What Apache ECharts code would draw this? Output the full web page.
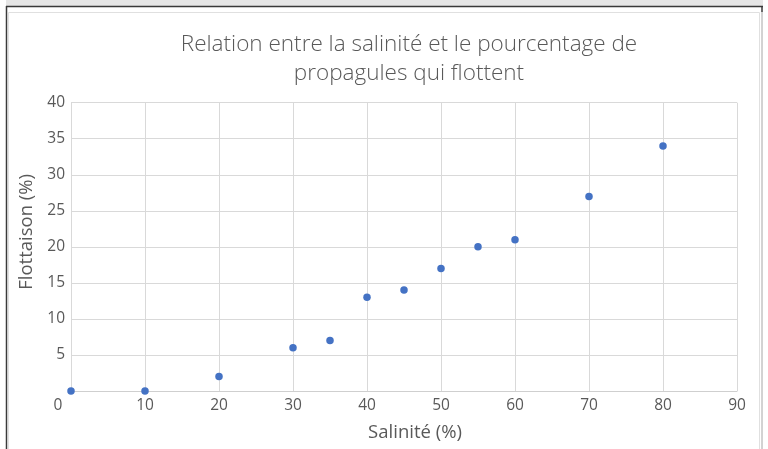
<!DOCTYPE html>
<html>
<head>
<meta charset="utf-8">
<script src="https://cdn.jsdelivr.net/npm/echarts@6/dist/echarts.min.js"></script>
<style>
  html, body { margin: 0; padding: 0; background: #ffffff; }
  #chart { width: 768px; height: 449px; }
</style>
</head>
<body>
<div id="chart"></div>
<script>
// Salinité (%) et flottaison (%) des propagules
const salinite   = [0, 10, 20, 30, 35, 40, 45, 50, 55, 60, 70, 80];
const flottaison = [0, 0, 2, 6, 7, 13, 14, 17, 20, 21, 27, 34];

const xTicks = { min: 0, max: 90, interval: 10 };
const yTicks = { min: 0, max: 40, interval: 5 };

const titleLines = ['Relation entre la salinité et le pourcentage de', 'propagules qui flottent'];
const xName = 'Salinité (%)';
const yName = 'Flottaison (%)';

const points = salinite.map((s, i) => [s, flottaison[i]]);

const FONT = '"Open Sans", "Noto Sans", sans-serif';
const TEXT = '#595959';
const GRID = '#d9d9d9';

const chart = echarts.init(document.getElementById('chart'), null, { renderer: 'canvas' });

chart.setOption({
  animation: false,
  backgroundColor: '#ffffff',
  title: {
    text: titleLines.join('\n'),
    left: 404,
    top: 25,
    textAlign: 'center',
    textStyle: {
      fontFamily: FONT,
      fontWeight: 300,
      fontSize: 22.5,
      lineHeight: 29,
      color: TEXT
    }
  },
  graphic: [
    // window frame around the chart area
    { type: 'rect', shape: { x: 6, y: 0, width: 757, height: 6 }, style: { fill: '#e6e6e6' }, silent: true },
    { type: 'line', shape: { x1: 6, y1: 6.5, x2: 763, y2: 6.5 }, style: { stroke: '#3a3a3a', lineWidth: 1.5 }, silent: true },
    { type: 'line', shape: { x1: 6.5, y1: 6, x2: 6.5, y2: 449 }, style: { stroke: '#3a3a3a', lineWidth: 1.5 }, silent: true },
    { type: 'line', shape: { x1: 762, y1: 6, x2: 762, y2: 12 }, style: { stroke: '#3a3a3a', lineWidth: 1.5 }, silent: true },
    { type: 'line', shape: { x1: 762, y1: 12, x2: 762, y2: 449 }, style: { stroke: '#a6a6a6', lineWidth: 1 }, silent: true },
    { type: 'rect', shape: { x: 8.5, y: 12.5, width: 751, height: 450 }, style: { fill: 'none', stroke: '#e0e0e0', lineWidth: 1 }, silent: true }
  ],
  grid: {
    left: 71,
    right: 31,
    top: 102.7,
    bottom: 58,
    containLabel: false
  },
  xAxis: {
    type: 'value',
    min: xTicks.min,
    max: xTicks.max,
    interval: xTicks.interval,
    name: xName,
    nameLocation: 'middle',
    nameGap: 32,
    nameTextStyle: {
      fontFamily: FONT,
      fontSize: 18.5,
      color: TEXT,
      padding: [0, 0, 0, 22]
    },
    axisLine: { show: true, lineStyle: { color: '#cfcfcf', width: 1 } },
    axisTick: { show: false },
    splitLine: { show: true, lineStyle: { color: GRID, width: 1 } },
    axisLabel: {
      margin: 7,
      fontFamily: FONT,
      fontSize: 15.5,
      color: TEXT,
      formatter: function (v) { return v === 0 ? '{z|0}' : String(v); },
      rich: {
        z: { fontFamily: FONT, fontSize: 15.5, color: TEXT, padding: [0, 26, 0, 0] }
      }
    }
  },
  yAxis: {
    type: 'value',
    min: yTicks.min,
    max: yTicks.max,
    interval: yTicks.interval,
    name: yName,
    nameLocation: 'middle',
    nameRotate: 90,
    nameGap: 33,
    nameTextStyle: {
      fontFamily: FONT,
      fontSize: 18.5,
      color: TEXT,
      padding: [0, 0, 0, 30]
    },
    axisLine: { show: true, lineStyle: { color: GRID, width: 1 } },
    axisTick: { show: false },
    splitLine: { show: true, lineStyle: { color: GRID, width: 1 } },
    axisLabel: {
      margin: 6,
      showMinLabel: false,
      fontFamily: FONT,
      fontSize: 15.5,
      color: TEXT
    }
  },
  series: [{
    type: 'scatter',
    data: points,
    symbol: 'circle',
    symbolSize: 7.5,
    itemStyle: { color: '#4472c4', opacity: 1 }
  }]
});
</script>
</body>
</html>
